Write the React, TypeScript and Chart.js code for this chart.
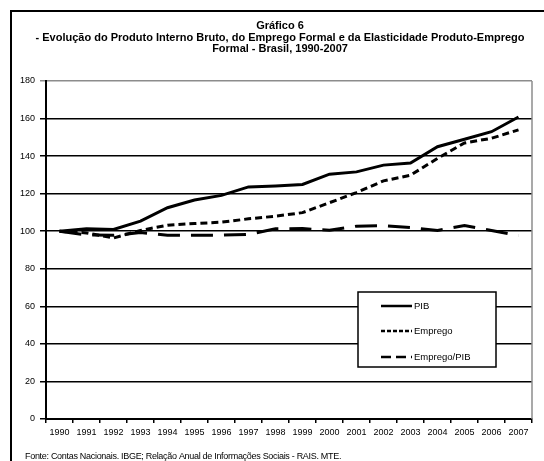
import React, { useEffect, useRef } from "react";
import { Chart, registerables } from "chart.js";

Chart.register(...registerables);

// Anos da série
const years = [
  "1990", "1991", "1992", "1993", "1994", "1995", "1996", "1997", "1998",
  "1999", "2000", "2001", "2002", "2003", "2004", "2005", "2006", "2007",
];

// Índices (1990 = 100)
const pib = [
  100, 101.3, 100.9, 105.4, 112.5, 116.6, 119.1, 123.6, 124.1,
  124.9, 130.4, 131.6, 135.2, 136.3, 145, 149, 153, 160.8,
];
const emprego = [
  100, 99.1, 96.4, 100.4, 103.2, 104.1, 104.8, 106.6, 108,
  109.9, 115.2, 120.6, 126.8, 129.8, 138.8, 147, 149.5, 154,
];
const empregoPib = [
  100, 98, 97.8, 99.3, 97.9, 97.9, 97.9, 98.3, 101.3,
  101.4, 100.5, 102.7, 103, 102, 100.4, 103, 100.4, 97.7,
];

const yMin = 0;
const yMax = 180;
const yStep = 20;

const titleLines = [
  "Gráfico 6",
  "- Evolução do Produto Interno Bruto, do Emprego Formal e da Elasticidade Produto-Emprego",
  "Formal - Brasil, 1990-2007",
];
const sourceNote =
  "Fonte: Contas Nacionais. IBGE; Relação Anual de Informações Sociais - RAIS. MTE.";

const FONT = "'Liberation Sans', Arial, sans-serif";

const decorPlugin = {
  id: "decor",
  beforeDraw(chart: any) {
    const { ctx, width, height } = chart;
    ctx.save();
    ctx.fillStyle = "#fff";
    ctx.fillRect(0, 0, width, height);
    ctx.strokeStyle = "#000";
    ctx.lineWidth = 2;
    ctx.strokeRect(11, 11, width + 40, height + 40);
    ctx.restore();
  },
  afterDatasetsDraw(chart: any) {
    const { ctx, chartArea } = chart;
    ctx.save();
    // borda direita da área de plotagem
    ctx.strokeStyle = "#8c8c8c";
    ctx.lineWidth = 1.5;
    ctx.beginPath();
    ctx.moveTo(chartArea.right, chartArea.top);
    ctx.lineTo(chartArea.right, chartArea.bottom);
    ctx.stroke();
    ctx.restore();
  },
  afterDraw(chart: any) {
    const { ctx } = chart;
    ctx.save();
    // título
    ctx.fillStyle = "#000";
    ctx.textAlign = "center";
    ctx.textBaseline = "middle";
    ctx.font = `bold 11px ${FONT}`;
    const ys = [26, 38, 49];
    titleLines.forEach((t, i) => ctx.fillText(t, 280, ys[i]));

    // legenda
    const lx = 358, ly = 292, lw = 138, lh = 75;
    ctx.fillStyle = "#fff";
    ctx.fillRect(lx, ly, lw, lh);
    ctx.strokeStyle = "#000";
    ctx.lineWidth = 1.5;
    ctx.strokeRect(lx, ly, lw, lh);
    const rows = [306, 331, 357];
    chart.data.datasets.forEach((ds: any, i: number) => {
      const y = rows[i];
      ctx.strokeStyle = "#000";
      ctx.lineWidth = 2.5;
      ctx.setLineDash(i === 0 ? [] : i === 1 ? [4, 2] : [10, 5]);
      ctx.beginPath();
      ctx.moveTo(381, y);
      ctx.lineTo(412, y);
      ctx.stroke();
      ctx.setLineDash([]);
      ctx.fillStyle = "#000";
      ctx.textAlign = "left";
      ctx.font = `9.5px ${FONT}`;
      ctx.fillText(ds.label, 414, y);
    });

    // fonte
    ctx.font = `9px ${FONT}`;
    (ctx as any).letterSpacing = "-0.3px";
    ctx.textAlign = "left";
    ctx.fillText(sourceNote, 25, 457);
    ctx.restore();
  },
};

export default function App() {
  const canvasRef = useRef<HTMLCanvasElement | null>(null);

  useEffect(() => {
    const canvas = canvasRef.current;
    if (!canvas) return;
    const chart = new Chart(canvas, {
      type: "line",
      data: {
        labels: years,
        datasets: [
          {
            label: "PIB",
            data: pib,
            borderColor: "#000",
            borderWidth: 3,
            pointRadius: 0,
            tension: 0,
            order: 3,
          },
          {
            label: "Emprego",
            data: emprego,
            borderColor: "#000",
            borderWidth: 3,
            borderDash: [7, 4],
            pointRadius: 0,
            tension: 0,
            order: 2,
          },
          {
            label: "Emprego/PIB",
            data: empregoPib,
            borderColor: "#000",
            borderWidth: 3,
            borderDash: [22, 11],
            pointRadius: 0,
            tension: 0,
            order: 1,
          },
        ],
      },
      options: {
        responsive: false,
        animation: false,
        devicePixelRatio: 1,
        layout: { padding: { top: 81, left: 0, right: 12, bottom: 22 } },
        plugins: {
          legend: { display: false },
          title: { display: false },
          tooltip: { enabled: false },
        },
        scales: {
          x: {
            type: "category",
            offset: true,
            afterFit: (s: any) => {
              s.height = 20;
            },
            grid: {
              offset: true,
              drawOnChartArea: false,
              color: "#000",
              lineWidth: 1.5,
              tickLength: 4,
            },
            border: { display: true, color: "#000", width: 2 },
            ticks: {
              color: "#000",
              font: { family: FONT, size: 9 },
              maxRotation: 0,
              autoSkip: false,
              padding: 4,
            },
          },
          y: {
            min: yMin,
            max: yMax,
            afterFit: (s: any) => {
              s.width = 46;
            },
            grid: {
              color: (c: any) => (c.tick && c.tick.value === yMax ? "#8c8c8c" : "#000"),
              lineWidth: 1.5,
              tickLength: 6,
            },
            border: { display: true, color: "#000", width: 2 },
            ticks: {
              stepSize: yStep,
              color: "#000",
              font: { family: FONT, size: 9 },
              padding: 5,
            },
          },
        },
      },
      plugins: [decorPlugin],
    });
    return () => chart.destroy();
  }, []);

  return (
    <div style={{ position: "fixed", left: 0, top: 0, width: 544, height: 461 }}>
      <canvas ref={canvasRef} width={544} height={461} />
    </div>
  );
}
